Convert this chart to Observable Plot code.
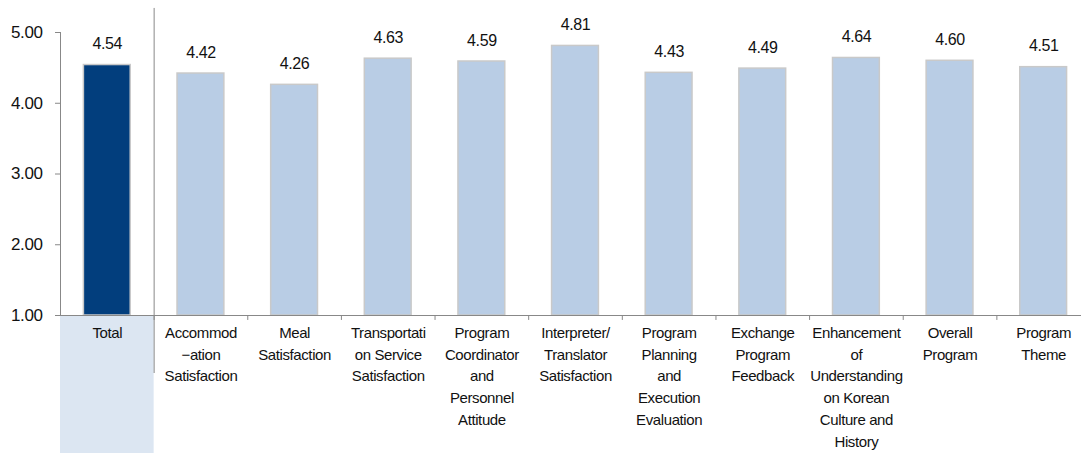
<!DOCTYPE html>
<html><head><meta charset="utf-8">
<script src="https://cdn.jsdelivr.net/npm/d3@7"></script>
<script src="https://cdn.jsdelivr.net/npm/@observablehq/plot@0.6"></script>
<style>
body{margin:0;background:#fff;}
svg text{letter-spacing:-0.4px;}
</style>
</head><body><div id="chart"></div>
<script>
const categories = ["Total","Accommodation","Meal","Transportation","Coordinator","Interpreter","Planning","Exchange","Enhancement","Overall","Theme"];
const labels = [
  "Total",
  "Accommod\n−ation\nSatisfaction",
  "Meal\nSatisfaction",
  "Transportati\non Service\nSatisfaction",
  "Program\nCoordinator\nand\nPersonnel\nAttitude",
  "Interpreter/\nTranslator\nSatisfaction",
  "Program\nPlanning\nand\nExecution\nEvaluation",
  "Exchange\nProgram\nFeedback",
  "Enhancement\nof\nUnderstanding\non Korean\nCulture and\nHistory",
  "Overall\nProgram",
  "Program\nTheme"
];
const values = [4.54,4.42,4.26,4.63,4.59,4.81,4.43,4.49,4.64,4.60,4.51];
const yTicks = [1,2,3,4,5];

const data = categories.map((c,i)=>({cat:c, label:labels[i], value:values[i]}));
const x0 = 60, x1 = 1090;
const step = (x1 - x0) / categories.length;
const font = "Liberation Sans, Arial, sans-serif";

const chart = Plot.plot({
  width: 1081,
  height: 453,
  marginLeft: 60,
  marginRight: 0,
  marginTop: 0,
  marginBottom: 0,
  style: {fontFamily: font, background: "#fff"},
  x: {domain: categories, range: [x0, x1], padding: 0, round: false, axis: null},
  y: {domain: [1,5], range: [315, 32], label: null},
  marks: [
    // Total label background
    Plot.barY([data[0]], {x:"cat", y1: 1, y2: -1, fill:"#dce6f2", insetTop: 1}),
    // y axis
    Plot.axisY(yTicks, {tickFormat: d3.format(".2f"), tickSize: 5, tickPadding: 13, fontSize: 17, stroke:"#888", fill:"#111", label: null}),
    Plot.ruleX([categories[0]], {x: d=>d, dx: -step/2, y1: 1, y2: 5, stroke:"#888"}),
    // bars
    Plot.barY(data, {x:"cat", y1: 1, y2:"value", fill: d => d.cat==="Total" ? "#023e7d" : "#b9cde5",
      stroke:"#c9c9c9", strokeWidth:1.5, insetLeft: step*0.25, insetRight: step*0.25}),
    // baseline
    Plot.ruleY([1], {stroke:"#888", insetLeft: -5}),
    // category boundary ticks
    Plot.ruleX(categories, {x: d=>d, dx: step/2, y1: 1, y2: 0.93, stroke:"#888"}),
    // separator
    Plot.ruleX([categories[0]], {x: d=>d, dx: step/2, y1: 0.18, y2: 5.34, stroke:"#888", strokeWidth:1}),
    // value labels
    Plot.text(data, {x:"cat", y:"value", text: d=>d3.format(".2f")(d.value), dy:-21, fontSize:16, fill:"#111"}),
    // category labels
    Plot.text(data, {x:"cat", y: 1, text:"label", lineAnchor:"top", dy: 7, fontSize: 15, lineHeight: 1.45, fill:"#111"})
  ]
});
document.getElementById("chart").appendChild(chart);
</script>
</body></html>
